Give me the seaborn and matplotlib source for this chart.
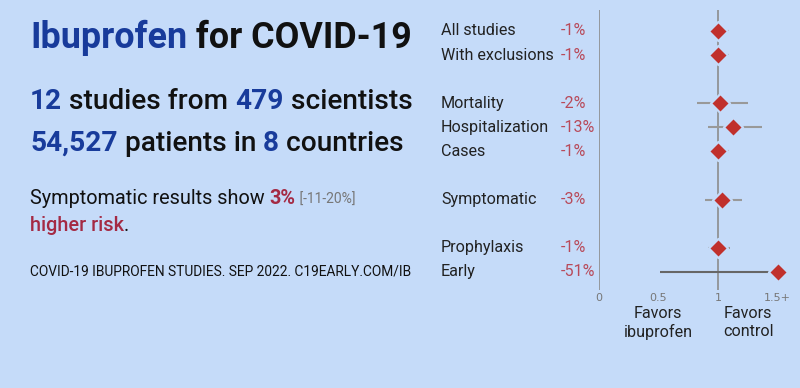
import pandas as pd
import seaborn as sns
import matplotlib

matplotlib.use("Agg")
import matplotlib.pyplot as plt

# Forest plot data (relative risk, capped at 1.5 for display)
outcomes = ["All studies", "With exclusions", "Mortality", "Hospitalization",
            "Cases", "Symptomatic", "Prophylaxis", "Early"]
row_pos = [0, 1, 3, 4, 5, 7, 9, 10]
pct_labels = ["-1%", "-1%", "-2%", "-13%", "-1%", "-3%", "-1%", "-51%"]
rr = [1.00, 1.00, 1.02, 1.13, 1.00, 1.03, 1.00, 1.50]
ci_low = [0.94, 0.94, 0.82, 0.92, 0.93, 0.89, 0.92, 0.51]
ci_high = [1.09, 1.09, 1.25, 1.37, 1.09, 1.20, 1.10, 1.50]
x_ticks = [0, 0.5, 1, 1.5]
x_ticklabels = ["0", "0.5", "1", "1.5+"]

BG = "#c5dbf9"
BLUE = "#183b9b"
RED = "#a42a44"
DIAMOND = "#c0302c"
PCT = "#b84a5a"
GREY = "#8c8c8c"

sns.set_theme(style="white")
plt.rcParams["font.family"] = ["Roboto", "DejaVu Sans"]

fig = plt.figure(figsize=(8, 3.88), dpi=100, facecolor=BG)
renderer = fig.canvas.get_renderer()


def runs(x, y, parts, size):
    # draw a line of text made of differently styled pieces
    for txt, color, weight, sz in parts:
        t = fig.text(x / 800, 1 - y / 388, txt, color=color, fontsize=sz or size,
                     fontweight=weight, va="baseline", ha="left")
        bb = t.get_window_extent(renderer=renderer)
        x += bb.width


runs(30, 48, [("Ibuprofen", BLUE, "bold", None), (" for COVID-19", "#111111", "bold", None)], 25.8)
runs(30, 109, [("12", BLUE, "bold", None), (" studies from ", "#111111", "medium", None),
               ("479", BLUE, "bold", None), (" scientists", "#111111", "medium", None)], 20.2)
runs(30, 151, [("54,527", BLUE, "bold", None), (" patients in ", "#111111", "medium", None),
               ("8", BLUE, "bold", None), (" countries", "#111111", "medium", None)], 20.2)
runs(30, 204, [("Symptomatic results show ", "#111111", "normal", None), ("3%", RED, "bold", None),
               (" [-11-20%]", "#777777", "normal", 10)], 14.3)
runs(30, 231, [("higher risk", RED, "medium", None), (".", "#111111", "normal", None)], 14.3)
runs(30, 275, [("COVID-19 IBUPROFEN STUDIES. SEP 2022. C19EARLY.COM/IB", "#111111", "normal", None)], 9.9)

df = pd.DataFrame({"outcome": outcomes, "row": row_pos, "pct": pct_labels,
                   "rr": rr, "lo": ci_low, "hi": ci_high})

ax = fig.add_axes([599 / 800, 98 / 388, 190.4 / 800, 280 / 388])
ax.patch.set_alpha(0)
ax.set_xlim(0, 1.6)
ax.set_ylim(10.75, -0.87)

ax.axvline(0, color=GREY, lw=1.2, zorder=1)
ax.axvline(1, color=GREY, lw=1.2, zorder=1)

for _, r in df.iterrows():
    col = "#666666" if r["outcome"] == "Early" else "#999999"
    ax.plot([r["lo"], r["hi"]], [r["row"], r["row"]], color=col, lw=1.5, zorder=2,
            solid_capstyle="butt")

sns.scatterplot(data=df, x="rr", y="row", marker="D", s=95, color=DIAMOND,
                edgecolor=BG, linewidth=1.6, zorder=3, ax=ax, clip_on=False)

for s in ax.spines.values():
    s.set_visible(False)
ax.set_xticks(x_ticks)
ax.set_xticklabels(x_ticklabels, color="#777777", fontsize=8, family="DejaVu Sans")
ax.tick_params(axis="x", length=0, pad=2)
ax.set_yticks([])
ax.set_xlabel("")
ax.set_ylabel("")

# row labels and percentages to the left of the axis
for _, r in df.iterrows():
    y_fig = ax.transData.transform((0, r["row"]))[1]
    fig.text(441 / 800, y_fig / fig.bbox.height, r["outcome"], fontsize=11.6,
             color="#222222", va="center", ha="left")
    fig.text(561 / 800, y_fig / fig.bbox.height, r["pct"], fontsize=11.6,
             color=PCT, va="center", ha="left")

fig.text(658 / 800, 1 - 323 / 388, "Favors\nibuprofen", fontsize=11.6, color="#222222",
         ha="center", va="center", linespacing=1.25)
fig.text(748 / 800, 1 - 323 / 388, "Favors\ncontrol", fontsize=11.6, color="#222222",
         ha="center", va="center", linespacing=1.25)

fig.savefig("out.png", dpi=100, facecolor=BG)
